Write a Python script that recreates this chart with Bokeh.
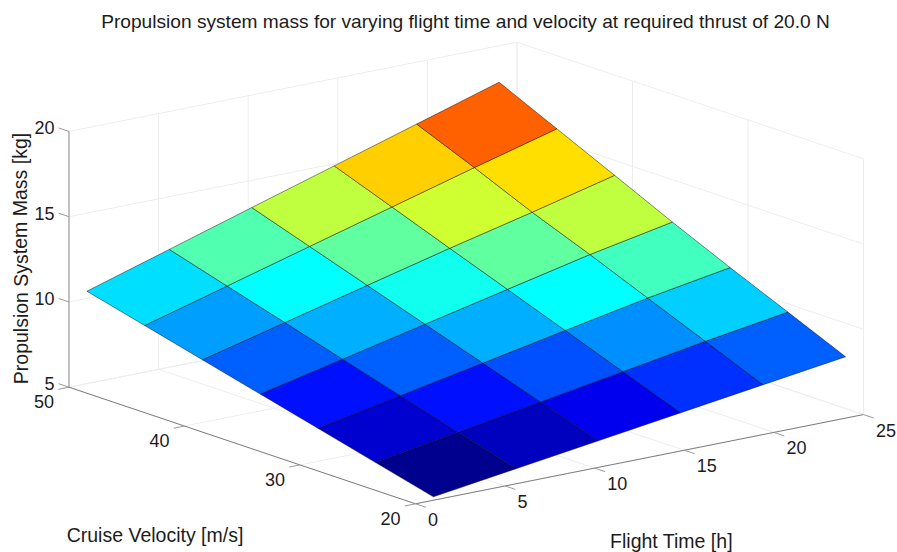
from bokeh.plotting import figure
from bokeh.models import Range1d
from bokeh.core.properties import value
from bokeh.embed import file_html
from bokeh.resources import INLINE

# ---- data ----
flight_time = [1.0, 5.6, 10.2, 14.8, 19.4, 24.0]
velocity = [20, 25, 30, 35, 40, 45, 50]
# mass[j][i]: j = velocity index, i = flight time index
mass = [
    [5.20, 5.88, 6.56, 7.24, 7.92, 8.60],
    [6.07, 6.88, 7.70, 8.51, 9.33, 10.08],
    [6.94, 7.89, 8.84, 9.79, 10.73, 11.55],
    [7.81, 8.89, 9.98, 11.06, 12.14, 13.08],
    [8.68, 9.90, 11.12, 12.33, 13.48, 14.68],
    [9.55, 10.90, 12.26, 13.61, 14.96, 16.27],
    [10.42, 11.91, 13.40, 14.88, 16.37, 17.86],
]
t_ticks = [0, 5, 10, 15, 20, 25]
v_ticks = [20, 30, 40, 50]
z_ticks = [5, 10, 15, 20]
title = "Propulsion system mass for varying flight time and velocity at required thrust of 20.0 N"
t_label = "Flight Time [h]"
v_label = "Cruise Velocity [m/s]"
z_label = "Propulsion System Mass [kg]"

# ---- orthographic projection of the 3-D axes box onto the page ----
OX, OY = 415.0, 503.3          # t=0, v=20, z=5
TX, TY = 17.92, -3.57          # per hour
VX, VY = -11.55, -3.887        # per m/s
ZY = -17.05                    # per kg


def proj(t, v, z):
    return (OX + TX * t + VX * (v - 20), OY + TY * t + VY * (v - 20) + ZY * (z - 5))


def jet(f):
    # MATLAB jet(64)
    idx = min(int(f * 64), 63)
    x = (idx + 1) / 64
    def ramp(c):
        return max(0.0, min(1.0, 1.5 - abs(4 * x - c)))
    r, g, b = ramp(3.0), ramp(2.0), ramp(1.0)
    return "#%02x%02x%02x" % (round(r * 255), round(g * 255), round(b * 255))


FONT = value("Liberation Sans")
TXT = "#1c1c1c"
FS = "18px"
FS_T = "19.15px"
FS_L = "19.5px"

p = figure(width=897, height=552, output_backend="svg", toolbar_location=None,
           x_range=Range1d(0, 897), y_range=Range1d(552, 0), min_border=0,
           outline_line_color=None)
p.xaxis.visible = False
p.yaxis.visible = False
p.grid.visible = False

# ---- grid on floor and two back walls ----
tmin, tmax = t_ticks[0], t_ticks[-1]
vmin, vmax = v_ticks[0], v_ticks[-1]
zmin, zmax = z_ticks[0], z_ticks[-1]
segs = []
for t in t_ticks:
    segs.append((proj(t, vmin, zmin), proj(t, vmax, zmin)))
    segs.append((proj(t, vmax, zmin), proj(t, vmax, zmax)))
for v in v_ticks:
    segs.append((proj(tmin, v, zmin), proj(tmax, v, zmin)))
    segs.append((proj(tmax, v, zmin), proj(tmax, v, zmax)))
for z in z_ticks:
    segs.append((proj(tmin, vmax, z), proj(tmax, vmax, z)))
    segs.append((proj(tmax, vmax, z), proj(tmax, vmin, z)))
p.multi_line([[a[0], b[0]] for a, b in segs], [[a[1], b[1]] for a, b in segs],
             line_color="#ededed", line_width=1)

# ---- axis lines ----
a, b = proj(tmin, vmax, zmin), proj(tmin, vmax, zmax)
p.line([a[0], b[0]], [a[1], b[1]], line_color="#b4b4b4", line_width=1.6)
a, b = proj(tmin, vmin, zmin), proj(tmin, vmax, zmin)
p.line([a[0], b[0]], [a[1], b[1]], line_color="#7d7d7d", line_width=1)
a, b = proj(tmin, vmin, zmin), proj(tmax, vmin, zmin)
p.line([a[0], b[0]], [a[1], b[1]], line_color="#7d7d7d", line_width=1)

# ---- ticks and tick labels ----
ticks = []
for t in t_ticks:
    ticks.append((proj(t, vmin, zmin), proj(t, vmin - 0.9, zmin)))
for v in v_ticks:
    ticks.append((proj(tmin, v, zmin), proj(tmin - 0.6, v, zmin)))
for z in z_ticks:
    ticks.append((proj(tmin, vmax, z), proj(tmin, vmax + 0.9, z)))
p.multi_line([[a[0], b[0]] for a, b in ticks], [[a[1], b[1]] for a, b in ticks],
             line_color="#9a9a9a", line_width=1)

tp = [proj(t, vmin, zmin) for t in t_ticks]
p.text([q[0] + 12.5 for q in tp], [q[1] + 15.5 for q in tp], text=[str(t) for t in t_ticks],
       text_font=FONT, text_font_size=FS, text_color=TXT, text_align="left", text_baseline="middle")
vp = [proj(tmin, v, zmin) for v in v_ticks]
p.text([q[0] - 15 for q in vp], [q[1] + 14.2 for q in vp], text=[str(v) for v in v_ticks],
       text_font=FONT, text_font_size=FS, text_color=TXT, text_align="right", text_baseline="middle")
zp = [proj(tmin, vmax, z) for z in z_ticks]
p.text([q[0] - 14.5 for q in zp], [q[1] - 3.5 for q in zp], text=[str(z) for z in z_ticks],
       text_font=FONT, text_font_size=FS, text_color=TXT, text_align="right", text_baseline="middle")

# ---- surface, flat shaded from each cell's first vertex ----
flat = [m for row in mass for m in row]
lo, hi = min(flat), max(flat)
xs, ys, cols = [], [], []
for j in range(len(velocity) - 1):
    for i in range(len(flight_time) - 1):
        corners = [(i, j), (i + 1, j), (i + 1, j + 1), (i, j + 1)]
        pts = [proj(flight_time[a], velocity[b], mass[b][a]) for a, b in corners]
        xs.append([q[0] for q in pts])
        ys.append([q[1] for q in pts])
        cols.append(jet((mass[j][i] - lo) / (hi - lo)))
p.patches(xs, ys, fill_color=cols, line_color="#000000", line_width=0.6, line_alpha=0.75)

# ---- title and axis labels ----
p.text([465], [21], text=[title], text_font=FONT, text_font_size=FS_T, text_color=TXT,
       text_align="center", text_baseline="middle")
p.text([154.5], [534], text=[v_label], text_font=FONT, text_font_size=FS_L, text_color=TXT,
       text_align="center", text_baseline="middle")
p.text([671], [540.5], text=[t_label], text_font=FONT, text_font_size=FS_L, text_color=TXT,
       text_align="center", text_baseline="middle")
p.text([20], [258], text=[z_label], angle=1.5708, text_font=FONT, text_font_size=FS_L, text_color=TXT,
       text_align="center", text_baseline="middle")

open("out.html", "w").write(file_html(p, INLINE))
